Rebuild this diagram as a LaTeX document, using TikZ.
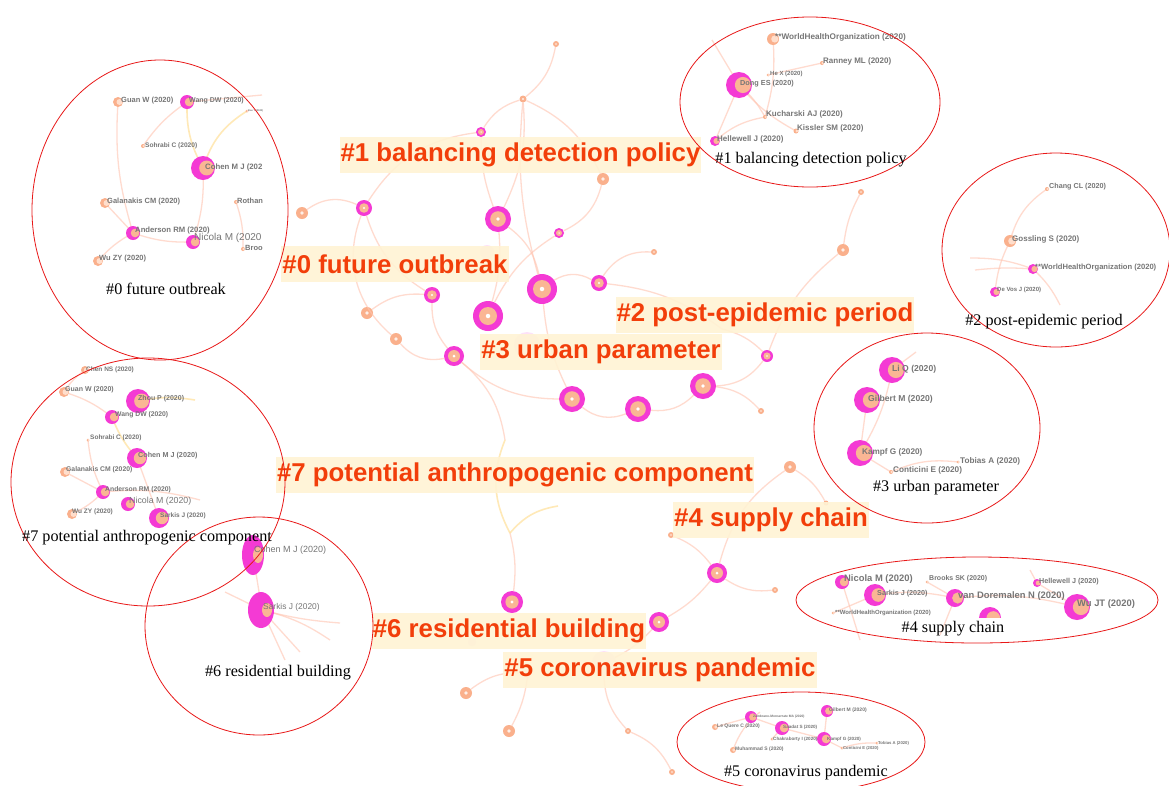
\documentclass[tikz,border=0pt]{standalone}
\usepackage{fontspec}
\setmainfont{Liberation Serif}
\newfontfamily\arl{Liberation Sans}
\usetikzlibrary{shapes.geometric}
\definecolor{labred}{RGB}{242,62,10}
\definecolor{cream}{RGB}{255,243,212}
\definecolor{mag}{RGB}{244,58,212}
\definecolor{peach}{RGB}{250,182,148}
\definecolor{peachd}{RGB}{250,176,140}
\definecolor{peachlt}{RGB}{255,222,204}
\definecolor{edgec}{RGB}{255,196,176}
\definecolor{yel}{RGB}{255,226,160}
\definecolor{ellred}{RGB}{232,24,24}
\definecolor{graytxt}{RGB}{118,118,118}
\newcommand\myfs[1]{\fontsize{#1}{#1}\selectfont}
% central ring nodes
\newcommand\Rm[4]{\node[circle,fill=mag,inner sep=0pt,minimum size={2*#4pt}] (#1) at (#2,#3) {};
 \fill[peach] (#1.center) circle[radius={0.6*#4pt}];
 \fill[white] (#1.center) circle[radius={0.15*#4pt}];}
\newcommand\Rp[4]{\node[circle,fill=peachd,inner sep=0pt,minimum size={2*#4pt}] (#1) at (#2,#3) {};
 \fill[white,opacity=0.8] (#1.center) circle[radius={0.3*#4pt}];}
% crescent nodes of the clusters
\newcommand\Cm[4]{\node[circle,fill=mag,inner sep=0pt,minimum size={2*#4pt}] (#1) at (#2,#3) {};
 \fill[peach] ([xshift={0.3*#4pt}]#1.center) circle[radius={0.62*#4pt}];}
\newcommand\Cp[4]{\node[circle,fill=peachd,inner sep=0pt,minimum size={2*#4pt}] (#1) at (#2,#3) {};
 \fill[peachlt] ([xshift={0.3*#4pt}]#1.center) circle[radius={0.6*#4pt}];}
\tikzset{
 edge/.style={draw=edgec,line width=1.3pt,opacity=0.6},
 yedge/.style={draw=yel,line width=1.6pt,opacity=0.75},
 biglab/.style={fill=cream,fill opacity=0.9,text opacity=1,text=labred,
   font=\arl\bfseries\myfs{25.8},inner xsep=1pt,inner ysep=0pt,minimum height=36pt},
 ell/.style={draw=ellred,line width=0.8pt},
 blk/.style={font=\myfs{16.2},text=black,inner sep=0pt},
 lbl/.style={text=graytxt,inner sep=0pt,anchor=west,font=\arl\bfseries\myfs{7.5}},
 faint/.style={circle,inner sep=0pt,fill=mag!30,opacity=0.5}
}
\begin{document}
\begin{tikzpicture}[x=1pt,y=-1pt]
\useasboundingbox[fill=white] (0,0) rectangle (1169,785);

%================ central network edges =================
\coordinate (y1) at (505,440);
\coordinate (y2) at (510,533);
\coordinate (y3) at (558,506);
\coordinate (e1) at (722,329);
\coordinate (e2) at (610,343);

\Rp{c1}{556}{44}{3}
\Rp{c2}{523}{99}{3.5}
\Rm{c3}{481}{132}{5}
\Rp{c4}{603}{179}{6}
\Rp{c5}{302}{213}{6}
\Rm{c6}{364}{208}{8}
\Rm{c7}{498}{219}{13}
\Rm{c8}{559}{233}{5}
\Rp{c9}{654}{252}{3}
\Rm{c10}{432}{295}{8}
\Rm{c11}{542}{289}{15}
\Rm{c12}{599}{283}{8}
\Rp{c13}{367}{313}{6}
\Rm{c14}{488}{316}{15}
\Rp{c15}{396}{339}{6}
\Rm{c16}{454}{356}{10}
\Rm{c17}{767}{356}{6}
\Rm{c18}{703}{386}{13}
\Rm{c19}{572}{399}{13}
\Rm{c20}{638}{409}{13}
\Rp{c21}{761}{411}{3}
\Rp{c22}{843}{250}{6}
\Rp{c23}{861}{192}{3}
\Rp{c24}{790}{467}{6}
\Rp{c25}{826}{503}{2.5}
\Rp{c26}{671}{535}{3}
\Rm{c27}{717}{573}{10}
\Rp{c28}{775}{590}{3}
\Rm{c29}{512}{602}{11}
\Rm{c30}{659}{622}{10}
\Rp{c31}{466}{693}{6}
\Rp{c32}{509}{731}{6}
\Rp{c33}{628}{731}{3}
\Rp{c34}{672}{772}{3}
\node[faint,minimum size=14pt] (f1) at (487,252) {};
\node[faint,minimum size=26pt] (f2) at (527,345) {};
\node[faint,minimum size=24pt] (f3) at (604,663) {};
\node[faint,minimum size=8pt] (f4) at (528,673) {};
\node[faint,minimum size=8pt] (f5) at (472,642) {};
\node[faint,minimum size=6pt] (f6) at (812,305) {};

\draw[edge] (c1) to[bend left=20] (c2);
\draw[edge] (c2) to[bend right=20] (c3);
\draw[edge] (c2) to[bend left=20] (c4);
\draw[edge] (c2) to[bend left=15] (c7);
\draw[edge] (c2) to[bend right=10] (c11);
\draw[edge] (c5) to[bend left=30] (c6);
\draw[edge] (c6) to[bend left=25] (c3);
\draw[edge] (c6) to[bend right=20] (c10);
\draw[edge] (c6) to[bend right=35] (c15);
\draw[edge] (c15) to[bend right=30] (c16);
\draw[edge] (c13) to[bend left=20] (c10);
\draw[edge] (c10) to[bend right=20] (c16);
\draw[edge] (c3) to[bend right=10] (c7);
\draw[edge] (c7) to[bend left=10] (c14);
\draw[edge] (c7) to[bend left=20] (c11);
\draw[edge] (c4) to[bend left=25] (c8);
\draw[edge] (c8) to[bend right=15] (c14);
\draw[edge] (c11) to[bend left=30] (c12);
\draw[edge] (c12) to[bend left=30] (c9);
\draw[edge] (c11) to[bend right=10] (c19);
\draw[edge] (c16) to[bend right=20] (c19);
\draw[edge] (c19) to[bend right=30] (c20);
\draw[edge] (c20) to[bend right=25] (c18);
\draw[edge] (c18) to[bend right=25] (c17);
\draw[edge] (c17) to[bend left=15] (c22);
\draw[edge] (c22) to[bend left=10] (c23);
\draw[edge] (c18) to[bend left=20] (c21);
\draw[edge] (c12) to[bend left=15] (e1);
\draw[edge] (e1) to[bend left=15] (c17);
\draw[edge] (c16) to[bend left=20] (y1);
\draw[edge] (y2) to[bend left=10] (c29);
\draw[edge] (c27) to[bend left=20] (c24);
\draw[edge] (c27) to[bend right=20] (c28);
\draw[edge] (c27) to[bend right=15] (c26);
\draw[edge] (c27) to[bend left=10] (c30);
\draw[edge] (c30) to[bend left=10] (f3);
\draw[edge] (f3) to[bend right=20] (c33);
\draw[edge] (c33) to[bend left=20] (c34);
\draw[edge] (f4) to[bend right=20] (c31);
\draw[edge] (f4) to[bend left=10] (c32);
\draw[edge] (c24) to[bend left=15] (c25);
\draw[yedge] (y1) to[bend right=25] (y2);
\draw[yedge] (y2) to[bend left=20] (y3);

%================ big labels =================
\node[biglab] (L1) at (520.5,155) {\#1 balancing detection policy};
\node[biglab] (L0) at (395,264) {\#0 future outbreak};
\node[biglab] (L2) at (765,315) {\#2 post-epidemic period};
\node[biglab] (L3) at (601,352) {\#3 urban parameter};
\node[biglab] (L7) at (515,475) {\#7 potential anthropogenic component};
\node[biglab] (L4) at (771,520) {\#4 supply chain};
\node[biglab] (L6) at (509,631) {\#6 residential building};
\node[biglab] (L5) at (660,670) {\#5 coronavirus pandemic};

%================ cluster #0 =================
\draw[edge] (118,102) to[bend right=10] (133,233);
\draw[edge] (187,102) to[bend right=10] (143,146);
\draw[edge] (203,168) to[bend left=10] (193,242);
\draw[edge] (133,233) to[bend right=10] (193,242);
\draw[edge] (133,233) to[bend right=10] (98,261);
\draw[edge] (236,202) to[bend left=10] (243,249);
\draw[edge] (187,102) -- (262,95);
\draw[edge] (105,203) -- (133,233);
\draw[yedge] (187,102) to[bend right=15] (203,168);
\draw[yedge] (247,111) to[bend right=20] (203,168);
\Cp{g0a}{118}{102}{5}
\Cm{g0b}{187}{102}{7}
\Cp{g0c}{247}{111}{1.5}
\Cp{g0d}{143}{146}{2}
\Cm{g0e}{203}{168}{12}
\Cp{g0f}{105}{203}{5}
\Cp{g0g}{236}{202}{2}
\Cm{g0h}{133}{233}{7}
\Cm{g0i}{193}{242}{7}
\Cp{g0j}{243}{249}{2}
\Cp{g0k}{98}{261}{5}
\node[lbl] (t0a) at (121,101) {Guan W (2020)};
\node[lbl,font=\arl\bfseries\myfs{7}] (t0b) at (189,101) {Wang DW (2020)};
\node[lbl,font=\arl\bfseries\myfs{2.5}] (t0c) at (248,111) {Bao Y (2020)};
\node[lbl,font=\arl\bfseries\myfs{6.6}] (t0d) at (145,146) {Sohrabi C (2020)};
\node[lbl,font=\arl\bfseries\myfs{7.8}] (t0e) at (205,167) {Cohen M J (202};
\node[lbl] (t0f) at (107,202) {Galanakis CM (2020)};
\node[lbl] (t0g) at (237,201) {Rothan};
\node[lbl,font=\arl\bfseries\myfs{7.7}] (t0h) at (135,231) {Anderson RM (2020)};
\node[lbl,font=\arl\myfs{10}] (t0i) at (194,238) {Nicola M (2020};
\node[lbl] (t0j) at (245,248) {Broo};
\node[lbl] (t0k) at (99,259) {Wu ZY (2020)};

%================ cluster #1 =================
\draw[edge] (739,85) to[bend left=10] (765,117);
\draw[edge] (739,85) to[bend right=10] (796,131);
\draw[edge] (739,85) -- (715,141);
\draw[edge] (773,39) to[bend left=10] (765,117);
\draw[edge] (768,75) -- (822,63);
\draw[edge] (739,85) -- (712,40);
\draw[edge] (715,141) to[bend left=15] (765,117);
\Cp{g1a}{773}{39}{6}
\Cp{g1b}{822}{63}{2}
\Cp{g1c}{768}{75}{1.5}
\Cm{g1d}{739}{85}{13}
\Cp{g1e}{765}{117}{2}
\Cp{g1f}{796}{131}{2.5}
\Cm{g1g}{715}{141}{5}
\node[lbl,font=\arl\bfseries\myfs{8.2}] (t1a) at (775,37) {**WorldHealthOrganization (2020)};
\node[lbl,font=\arl\bfseries\myfs{8}] (t1b) at (823,61) {Ranney ML (2020)};
\node[lbl,font=\arl\bfseries\myfs{6}] (t1c) at (770,74) {He X (2020)};
\node[lbl,font=\arl\bfseries\myfs{7.3}] (t1d) at (740,84) {Dong ES (2020)};
\node[lbl,font=\arl\bfseries\myfs{8}] (t1e) at (766,114) {Kucharski AJ (2020)};
\node[lbl,font=\arl\bfseries\myfs{8}] (t1f) at (797,128) {Kissler SM (2020)};
\node[lbl,font=\arl\bfseries\myfs{8}] (t1g) at (717,139) {Hellewell J (2020)};

%================ cluster #2 =================
\draw[edge] (1047,189) to[bend right=20] (1010,241);
\draw[edge] (1010,241) to[bend right=10] (995,292);
\draw[edge] (970,258) to[bend left=10] (1033,269);
\draw[edge] (975,270) to[bend left=5] (1033,269);
\draw[edge] (1033,269) to[bend left=10] (1060,305);
\Cp{g2a}{1047}{189}{2}
\Cp{g2b}{1010}{241}{6}
\Cm{g2c}{1033}{269}{5}
\Cm{g2d}{995}{292}{5}
\node[lbl,font=\arl\bfseries\myfs{7.2}] (t2a) at (1049,187) {Chang CL (2020)};
\node[lbl,font=\arl\bfseries\myfs{8}] (t2b) at (1012,239) {Gossling S (2020)};
\node[lbl,font=\arl\bfseries\myfs{7.6}] (t2c) at (1035,268) {**WorldHealthOrganization (2020)};
\node[lbl,font=\arl\bfseries\myfs{6}] (t2d) at (997,290) {De Vos J (2020)};

%================ cluster #3 =================
\draw[edge] (867,400) -- (860,453);
\draw[edge] (892,370) to[bend left=10] (860,453);
\draw[edge] (860,453) -- (891,472);
\draw[edge] (891,472) to[bend left=15] (958,462);
\draw[edge] (892,370) -- (916,352);
\Cm{g3a}{892}{370}{13}
\Cm{g3b}{867}{400}{13}
\Cm{g3c}{860}{453}{13}
\Cp{g3d}{958}{462}{1.5}
\Cp{g3e}{891}{472}{2}
\node[lbl,font=\arl\bfseries\myfs{8.6}] (t3a) at (892,369) {Li Q (2020)};
\node[lbl,font=\arl\bfseries\myfs{8.6}] (t3b) at (868,399) {Gilbert M (2020)};
\node[lbl,font=\arl\bfseries\myfs{8.2}] (t3c) at (862,452) {Kampf G (2020)};
\node[lbl,font=\arl\bfseries\myfs{8.2}] (t3d) at (960,461) {Tobias A (2020)};
\node[lbl,font=\arl\bfseries\myfs{8.2}] (t3e) at (893,470) {Conticini E (2020)};

%================ cluster #7 =================
\draw[edge] (85,370) to[bend right=10] (64,392);
\draw[edge] (64,392) to[bend left=10] (112,417);
\draw[edge] (88,440) to[bend right=10] (103,492);
\draw[edge] (65,472) -- (103,492);
\draw[edge] (103,492) to[bend left=10] (72,514);
\draw[edge] (137,458) -- (159,518);
\draw[edge] (103,492) to[bend left=10] (200,500);
\draw[yedge] (138,401) to[bend left=10] (195,400);
\draw[yedge] (112,417) to[bend right=10] (137,458);
\Cp{g7a}{85}{370}{4}
\Cp{g7b}{64}{392}{5}
\Cm{g7c}{138}{401}{12}
\Cm{g7d}{112}{417}{7}
\Cp{g7e}{88}{440}{1.5}
\Cm{g7f}{137}{458}{10}
\Cp{g7g}{65}{472}{5}
\Cm{g7h}{103}{492}{7}
\Cm{g7i}{128}{504}{7}
\Cp{g7j}{72}{514}{5}
\Cm{g7k}{159}{518}{10}
\node[lbl,font=\arl\bfseries\myfs{6.5}] (t7a) at (86,370) {Chen NS (2020)};
\node[lbl,font=\arl\bfseries\myfs{7}] (t7b) at (65,390) {Guan W (2020)};
\node[lbl,font=\arl\bfseries\myfs{7}] (t7c) at (138,399) {Zhou P (2020)};
\node[lbl,font=\arl\bfseries\myfs{6.8}] (t7d) at (115,415) {Wang DW (2020)};
\node[lbl,font=\arl\bfseries\myfs{6.5}] (t7e) at (90,438) {Sohrabi C (2020)};
\node[lbl,font=\arl\bfseries\myfs{7.2}] (t7f) at (138,456) {Cohen M J (2020)};
\node[lbl,font=\arl\bfseries\myfs{6.8}] (t7g) at (66,470) {Galanakis CM (2020)};
\node[lbl,font=\arl\bfseries\myfs{6.8}] (t7h) at (105,490) {Anderson RM (2020)};
\node[lbl,font=\arl\myfs{8.8}] (t7i) at (129,501) {Nicola M (2020)};
\node[lbl,font=\arl\bfseries\myfs{6.5}] (t7j) at (72,512) {Wu ZY (2020)};
\node[lbl,font=\arl\bfseries\myfs{6.5}] (t7k) at (160,516) {Sarkis J (2020)};

%================ cluster #6 =================
\draw[edge] (253,555) -- (262,610);
\draw[edge] (262,610) to[bend left=10] (330,640);
\draw[edge] (262,610) -- (285,660);
\draw[edge] (262,610) -- (300,652);
\draw[edge] (262,610) to[bend right=5] (340,623);
\draw[edge] (225,592) -- (262,610);
\node[ellipse,fill=mag,inner sep=0pt,minimum width=22pt,minimum height=40pt] (g6a) at (253,555) {};
\fill[peach] ([xshift=5pt]g6a.center) ellipse [x radius=5pt,y radius=8pt];
\node[ellipse,fill=mag,inner sep=0pt,minimum width=26pt,minimum height=36pt] (g6b) at (261,610) {};
\fill[peach] ([xshift=6pt]g6b.center) ellipse [x radius=5pt,y radius=7pt];
\node[lbl,font=\arl\myfs{9}] (t6a) at (254,550) {Cohen M J (2020)};
\node[lbl,font=\arl\myfs{8.4}] (t6b) at (263,607) {Sarkis J (2020)};

%================ cluster #4 =================
\draw[edge] (842,582) -- (860,640);
\draw[edge] (875,595) to[bend left=10] (955,598);
\draw[edge] (927,582) -- (955,598);
\draw[edge] (955,598) -- (940,635);
\draw[edge] (1037,583) -- (1077,607);
\draw[edge] (1030,570) -- (1037,583);
\draw[edge] (955,598) to[bend left=10] (1077,607);
\draw[edge] (833,613) -- (875,595);
\Cm{g4a}{842}{582}{7}
\Cp{g4b}{927}{582}{1.5}
\Cm{g4c}{1037}{583}{4}
\Cm{g4d}{875}{595}{11}
\Cm{g4e}{955}{598}{9}
\Cm{g4f}{1077}{607}{13}
\Cp{g4g}{833}{613}{1.5}
\begin{scope}
\clip (970,595) rectangle (1010,617);
\Cm{g4h}{990}{618}{11}
\end{scope}
\node[lbl,font=\arl\bfseries\myfs{9.4}] (t4a) at (844,579) {Nicola M (2020)};
\node[lbl,font=\arl\bfseries\myfs{7}] (t4b) at (929,579) {Brooks SK (2020)};
\node[lbl,font=\arl\bfseries\myfs{7.2}] (t4c) at (1039,582) {Hellewell J (2020)};
\node[lbl,font=\arl\bfseries\myfs{7.2}] (t4d) at (877,594) {Sarkis J (2020)};
\node[lbl,font=\arl\bfseries\myfs{9.4}] (t4e) at (958,596) {van Doremalen N (2020)};
\node[lbl,font=\arl\bfseries\myfs{9.4}] (t4f) at (1077,604) {Wu JT (2020)};
\node[lbl,font=\arl\bfseries\myfs{6}] (t4g) at (835,613) {**WorldHealthOrganization (2020)};

%================ cluster #5 =================
\draw[edge] (751,717) -- (782,728);
\draw[edge] (782,728) -- (824,739);
\draw[edge] (827,711) -- (824,739);
\draw[edge] (824,739) -- (842,748);
\draw[edge] (842,748) to[bend left=10] (877,743);
\draw[edge] (715,727) -- (751,717);
\draw[edge] (733,750) to[bend left=15] (760,712);
\draw[edge] (772,739) -- (782,728);
\Cm{g5a}{827}{711}{6}
\Cm{g5b}{751}{717}{6}
\Cp{g5c}{715}{727}{3}
\Cm{g5d}{782}{728}{7}
\Cp{g5e}{772}{739}{1.5}
\Cm{g5f}{824}{739}{7}
\Cp{g5g}{877}{743}{1.5}
\Cp{g5h}{842}{748}{1.5}
\Cp{g5i}{733}{750}{3}
\node[lbl,font=\arl\bfseries\myfs{5}] (t5a) at (829,710) {Gilbert M (2020)};
\node[lbl,font=\arl\bfseries\myfs{3.3}] (t5b) at (753,717) {Zambrano-Monserrate MA (2020)};
\node[lbl,font=\arl\bfseries\myfs{5}] (t5c) at (717,726) {Le Quere C (2020)};
\node[lbl,font=\arl\bfseries\myfs{4.6}] (t5d) at (783,727) {Saadat S (2020)};
\node[lbl,font=\arl\bfseries\myfs{4.6}] (t5e) at (773,739) {Chakraborty I (2020)};
\node[lbl,font=\arl\bfseries\myfs{4.6}] (t5f) at (827,739) {Kampf G (2020)};
\node[lbl,font=\arl\bfseries\myfs{4.2}] (t5g) at (878,743) {Tobias A (2020)};
\node[lbl,font=\arl\bfseries\myfs{4.2}] (t5h) at (843,748) {Conticini E (2020)};
\node[lbl,font=\arl\bfseries\myfs{5}] (t5i) at (735,749) {Muhammad S (2020)};

%================ ellipses =================
\draw[ell] (160,210) ellipse [x radius=128,y radius=150];
\draw[ell] (810,102) ellipse [x radius=130,y radius=85];
\draw[ell] (1056,250) ellipse [x radius=114,y radius=97];
\draw[ell] (927,428) ellipse [x radius=113,y radius=95];
\draw[ell] (148,482) ellipse [x radius=137,y radius=124];
\draw[ell] (259,626) ellipse [x radius=114,y radius=109];
\draw[ell] (977,600) ellipse [x radius=181,y radius=43];
\draw[ell] (801,742) ellipse [x radius=124,y radius=50];

%================ black cluster labels =================
\node[blk] (b0) at (166,289) {\#0 future outbreak};
\node[blk] (b1) at (811,160) {\#1 balancing detection policy};
\node[blk] (b2) at (1044,322) {\#2 post-epidemic period};
\node[blk] (b3) at (936,488) {\#3 urban parameter};
\node[blk] (b7) at (147,538) {\#7 potential anthropogenic component};
\node[blk] (b6) at (278,673) {\#6 residential building};
\node[blk] (b4) at (953,629) {\#4 supply chain};
\node[blk] (b5) at (806,773) {\#5 coronavirus pandemic};
\end{tikzpicture}
\end{document}
